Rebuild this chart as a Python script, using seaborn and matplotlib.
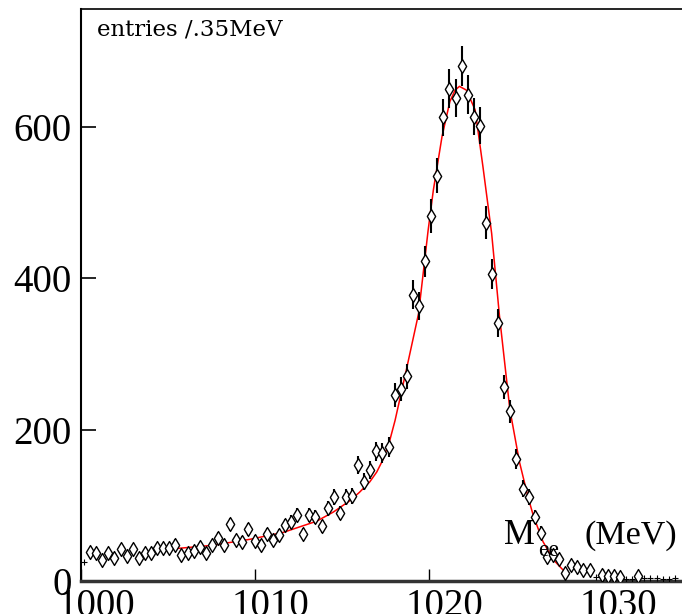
import numpy as np
import pandas as pd
import seaborn as sns
import matplotlib.pyplot as plt
import matplotlib.transforms as mtrans

# histogram: entries per .35 MeV bin, first bin starts at 1000 MeV
bin_start = 1000.0
bin_width = 0.35
counts = [25, 38, 36.5, 28, 36.5, 31, 42, 33, 42, 31,
          36.5, 36.5, 44, 43, 44, 48, 34, 36.5, 39, 45,
          36.5, 47.5, 57, 48, 75, 54, 52, 68, 53, 47,
          62, 54, 61, 73.5, 78, 87, 62, 87, 84.5, 72,
          96, 110.5, 90, 110.5, 112, 153, 131, 146.5, 171, 169,
          177, 245.5, 254, 270, 378, 363, 422, 482, 535, 612,
          650, 638, 680, 642, 613, 601, 473, 405, 341, 256,
          224, 161, 122, 111, 85, 64, 32, 34, 29, 11,
          21, 18, 15, 14.5, 5, 8, 6, 6, 5, 3,
          3, 6.6, 3.5, 3.5, 3.5, 2, 3, 4]
# bins drawn with a "+" instead of a diamond
plus_bins = [0, 84, 89, 90, 92, 93, 94, 95, 96, 97]

# fitted curve
fit_mass = [1005.06, 1007.5, 1009.7, 1011.6, 1013.55, 1014.5, 1015.45, 1016.0,
            1016.6, 1017.0, 1017.35, 1017.75, 1018.05, 1018.7, 1019.4, 1019.95,
            1020.25, 1020.75, 1021.2, 1021.5, 1021.75, 1022.15, 1022.65, 1023.1,
            1023.6, 1024.05, 1024.65, 1025.2, 1025.7, 1026.0, 1026.55, 1027.15,
            1027.85]
fit_counts = [42, 47, 55, 64, 79, 91, 106, 117,
              131, 144, 160, 186, 212, 279, 353, 463,
              516, 587, 633, 648, 653, 648, 622, 547,
              459, 350, 226, 157, 110, 86, 52, 28,
              11]

x_ticks = [1000, 1010, 1020, 1030]
y_ticks = [0, 200, 400, 600]

df = pd.DataFrame({'counts': counts})
df['mass'] = bin_start + bin_width * (df.index + 0.5)
df['err'] = np.sqrt(df['counts'])
df['plus'] = df.index.isin(plus_bins)

sns.set_theme(style='ticks')
plt.rcParams['font.family'] = ['Liberation Serif', 'DejaVu Serif']

fig = plt.figure(figsize=(6.82, 6.14), dpi=100)
ax = fig.add_axes([81 / 682, 33 / 614, 601 / 682, 572.5 / 614])

# fit
sns.lineplot(x=fit_mass, y=fit_counts, color='red', linewidth=1.1, ax=ax, zorder=2)

# data with poisson errors
dia = df[~df['plus']]
ax.errorbar(dia['mass'], dia['counts'], yerr=dia['err'], fmt='none',
            ecolor='black', elinewidth=1.5, capsize=0, zorder=3)
sns.scatterplot(data=dia, x='mass', y='counts', marker='d', s=50,
                facecolor='white', edgecolor='black', linewidth=1, ax=ax, zorder=4)
pl = df[df['plus']]
sns.scatterplot(data=pl, x='mass', y='counts', marker='+', s=25,
                color='black', linewidth=0.8, ax=ax, zorder=4)

ax.set_xlim(1000, 1000 + 601 / 17.4)
ax.set_ylim(0, 572.5 / 0.7575)
ax.set_xticks(x_ticks)
ax.set_yticks(y_ticks)
ax.set_xlabel('')
ax.set_ylabel('')

ax.spines['right'].set_visible(False)
ax.spines['left'].set_linewidth(1.5)
ax.spines['top'].set_linewidth(1.2)
ax.spines['bottom'].set_linewidth(2.5)
ax.spines['bottom'].set_color('#333333')
for s in ['left', 'top']:
    ax.spines[s].set_color('black')

ax.tick_params(axis='x', direction='in', length=9, width=1, pad=5, labelsize=28, colors='black')
ax.tick_params(axis='y', direction='in', length=11, width=1.2, pad=6.5, labelsize=28, colors='black')

# x labels sit a bit right of their ticks
shift = mtrans.ScaledTranslation(15 / 100, 0, fig.dpi_scale_trans)
for lab in ax.get_xticklabels():
    lab.set_transform(lab.get_transform() + shift)

fig.text(97 / 682, 1 - 36 / 614, 'entries /.35MeV', fontsize=16.5, va='baseline', ha='left',
         family=['DejaVu Serif'], color='black')
fig.text(504 / 682, 1 - 544 / 614, 'M', fontsize=25, va='baseline', ha='left', color='black')
fig.text(538 / 682, 1 - 556 / 614, 'ee', fontsize=17, va='baseline', ha='left', color='black')
fig.text(584 / 682, 1 - 544 / 614, '(MeV)', fontsize=24.5, va='baseline', ha='left', color='black')

fig.savefig('out.png', dpi=100)
